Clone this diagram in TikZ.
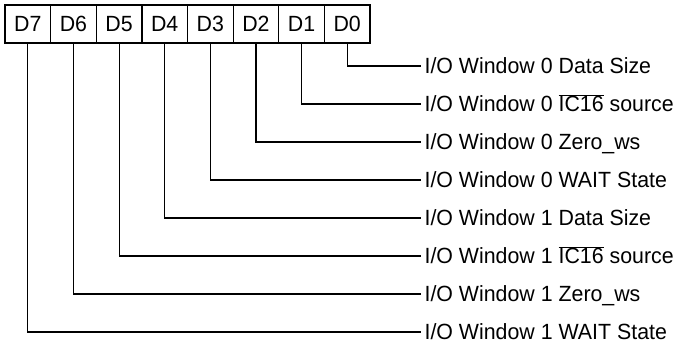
\documentclass[tikz,border=0pt]{standalone}
\usepackage{fontspec}
\setmainfont{Liberation Sans}[FakeStretch=0.97]

\begin{document}
\begin{tikzpicture}[x=1pt,y=-1pt,line width=1.2pt,
        bit/.style={draw,minimum width=45.6pt,minimum height=38pt,inner sep=0pt,outer sep=0pt,font=\fontsize{22}{26}\selectfont},
        field/.style={anchor=west,inner sep=3pt,text height=15.8pt,text depth=0pt,font=\fontsize{22}{26}\selectfont}]
            \useasboundingbox (0,0) rectangle (679,345);

            \node[bit] (d7) at (27.8,24) {D7};
            \node[bit] (d6) at (73.4,24) {D6};
            \node[bit] (d5) at (119.1,24) {D5};
            \node[bit] (d4) at (164.7,24) {D4};
            \node[bit] (d3) at (210.3,24) {D3};
            \node[bit] (d2) at (255.9,24) {D2};
            \node[bit] (d1) at (301.6,24) {D1};
            \node[bit] (d0) at (347.2,24) {D0};

            \node[field] (w0) at (421,66) {I/O Window 0 Data Size};
            \node[field] (w1) at (421,104) {I/O Window 0 $\overline{\mbox{IC16}}$ source};
            \node[field] (w2) at (421,142) {I/O Window 0 Zero\_ws};
            \node[field] (w3) at (421,180) {I/O Window 0 WAIT State};
            \node[field] (w4) at (421,218) {I/O Window 1 Data Size};
            \node[field] (w5) at (421,256) {I/O Window 1 $\overline{\mbox{IC16}}$ source};
            \node[field] (w6) at (421,294) {I/O Window 1 Zero\_ws};
            \node[field] (w7) at (421,332) {I/O Window 1 WAIT State};

            \draw (d0) |- (w0);
            \draw (d1) |- (w1);
            \draw (d2) |- (w2);
            \draw (d3) |- (w3);
            \draw (d4) |- (w4);
            \draw (d5) |- (w5);
            \draw (d6) |- (w6);
            \draw (d7) |- (w7);
        \end{tikzpicture}
\end{document}
